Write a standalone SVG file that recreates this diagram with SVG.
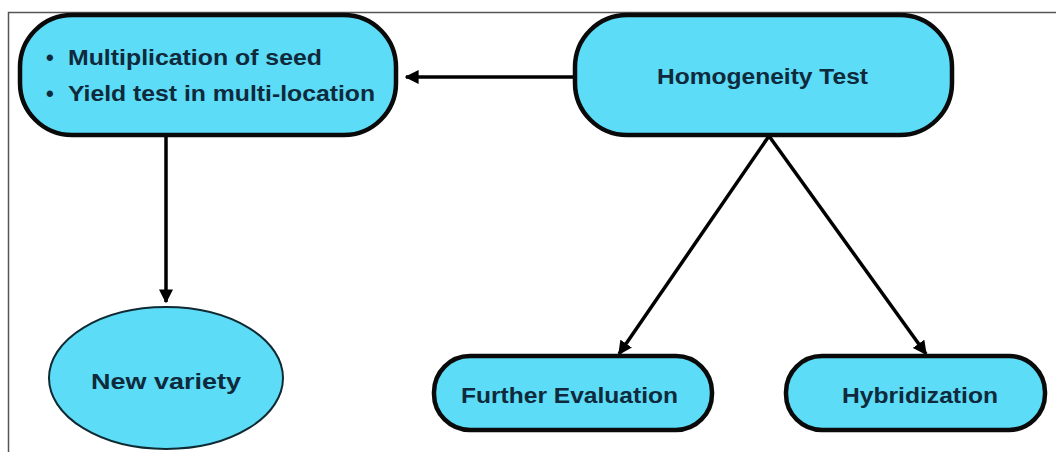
<svg xmlns="http://www.w3.org/2000/svg" width="1056" height="452" viewBox="0 0 1056 452">
<style>
.box{fill:#5cdcf6;stroke:#0a0a0a;stroke-width:4.5}
.ell{fill:#5cdcf6;stroke:#0f2a33;stroke-width:2}
.t{font-family:"Liberation Sans",Arial,sans-serif;font-weight:bold;font-size:22px;fill:#0e2a3c}
.c{stroke:#000;stroke-width:3.5;fill:none}
</style>
<defs>
<marker id="ah" viewBox="0 0 10 10" refX="9" refY="5" markerWidth="4" markerHeight="4" orient="auto" markerUnits="strokeWidth">
<path d="M0,0 L10,5 L0,10 z" fill="#000"/>
</marker>
</defs>
<rect width="1056" height="452" fill="#fff"/>
<path d="M8.5,452 V12.5 H1056" fill="none" stroke="#555" stroke-width="1.5"/>
<g id="connectors">
<line class="c" x1="575" y1="77" x2="406" y2="77" marker-end="url(#ah)"/>
<line class="c" x1="166" y1="136" x2="166" y2="302" marker-end="url(#ah)"/>
<line class="c" x1="769" y1="136" x2="619" y2="354" marker-end="url(#ah)"/>
<line class="c" x1="769" y1="136" x2="926" y2="354" marker-end="url(#ah)"/>
</g>
<g id="node-multiplication">
<rect class="box" x="20" y="15" width="376" height="120" rx="52" ry="52"/>
<text class="t" x="46" y="65">•</text>
<text class="t" x="68" y="65" textLength="254" lengthAdjust="spacingAndGlyphs">Multiplication of seed</text>
<text class="t" x="46" y="101">•</text>
<text class="t" x="68" y="101" textLength="307" lengthAdjust="spacingAndGlyphs">Yield test in multi-location</text>
</g>
<g id="node-homogeneity">
<rect class="box" x="575" y="15" width="377" height="120" rx="52" ry="52"/>
<text class="t" x="657" y="84" textLength="211" lengthAdjust="spacingAndGlyphs">Homogeneity Test</text>
</g>
<g id="node-newvariety">
<ellipse class="ell" cx="166" cy="378" rx="117" ry="71"/>
<text class="t" x="91" y="389" textLength="150" lengthAdjust="spacingAndGlyphs">New variety</text>
</g>
<g id="node-further">
<rect class="box" x="434" y="356" width="278" height="74" rx="36" ry="36"/>
<text class="t" x="461" y="403" textLength="217" lengthAdjust="spacingAndGlyphs">Further Evaluation</text>
</g>
<g id="node-hybridization">
<rect class="box" x="786" y="356" width="259" height="74" rx="36" ry="36"/>
<text class="t" x="842" y="403" textLength="156" lengthAdjust="spacingAndGlyphs">Hybridization</text>
</g>
</svg>
